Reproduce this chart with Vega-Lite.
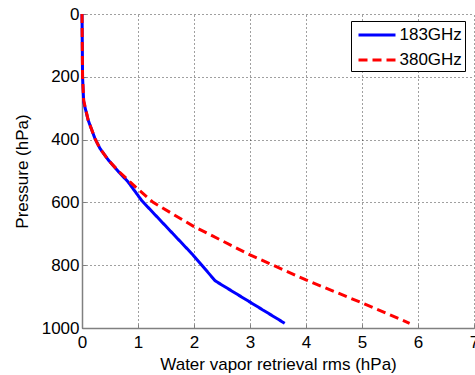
{
  "$schema": "https://vega.github.io/schema/vega-lite/v6.json",
  "autosize": "none",
  "width": 392,
  "height": 314,
  "padding": {"left": 82, "top": 14, "right": 1, "bottom": 47},
  "background": "white",
  "config": {
    "font": "Liberation Sans",
    "view": {"stroke": null},
    "axis": {
      "labelFont": "Liberation Sans",
      "titleFont": "Liberation Sans",
      "labelFontSize": 17,
      "titleFontSize": 17,
      "labelColor": "#000",
      "titleColor": "#000",
      "titleFontWeight": "normal",
      "domainColor": "#808080",
      "domainWidth": 1.5,
      "tickColor": "#808080",
      "tickSize": -4,
      "grid": true,
      "gridColor": "#000",
      "gridDash": [1, 3],
      "gridOpacity": 0.75,
      "gridWidth": 1
    }
  },
  "data": {
    "values": [
      {"band": "183GHz", "p": 0, "rms": 0.0},
      {"band": "183GHz", "p": 100, "rms": 0.005},
      {"band": "183GHz", "p": 200, "rms": 0.01},
      {"band": "183GHz", "p": 280, "rms": 0.03},
      {"band": "183GHz", "p": 338, "rms": 0.11},
      {"band": "183GHz", "p": 396, "rms": 0.23},
      {"band": "183GHz", "p": 428, "rms": 0.32},
      {"band": "183GHz", "p": 465, "rms": 0.47},
      {"band": "183GHz", "p": 502, "rms": 0.65},
      {"band": "183GHz", "p": 534, "rms": 0.82},
      {"band": "183GHz", "p": 595, "rms": 1.07},
      {"band": "183GHz", "p": 767, "rms": 1.98},
      {"band": "183GHz", "p": 850, "rms": 2.38},
      {"band": "183GHz", "p": 985, "rms": 3.62},
      {"band": "380GHz", "p": 0, "rms": 0.0},
      {"band": "380GHz", "p": 100, "rms": 0.005},
      {"band": "380GHz", "p": 200, "rms": 0.01},
      {"band": "380GHz", "p": 275, "rms": 0.03},
      {"band": "380GHz", "p": 338, "rms": 0.11},
      {"band": "380GHz", "p": 396, "rms": 0.23},
      {"band": "380GHz", "p": 428, "rms": 0.32},
      {"band": "380GHz", "p": 465, "rms": 0.47},
      {"band": "380GHz", "p": 500, "rms": 0.65},
      {"band": "380GHz", "p": 550, "rms": 0.95},
      {"band": "380GHz", "p": 600, "rms": 1.27},
      {"band": "380GHz", "p": 677, "rms": 2.0},
      {"band": "380GHz", "p": 767, "rms": 3.0},
      {"band": "380GHz", "p": 847, "rms": 4.0},
      {"band": "380GHz", "p": 920, "rms": 5.0},
      {"band": "380GHz", "p": 985, "rms": 5.85}
    ]
  },
  "mark": {"type": "line", "strokeWidth": 3, "clip": false},
  "encoding": {
    "x": {
      "field": "rms",
      "type": "quantitative",
      "title": "Water vapor retrieval rms (hPa)",
      "scale": {"domain": [0, 7], "nice": false, "zero": false},
      "axis": {"values": [0, 1, 2, 3, 4, 5, 6, 7], "labelPadding": 10, "titlePadding": 6, "labelFlush": false}
    },
    "y": {
      "field": "p",
      "type": "quantitative",
      "title": "Pressure (hPa)",
      "scale": {"domain": [0, 1000], "reverse": true, "nice": false, "zero": false},
      "axis": {"values": [0, 200, 400, 600, 800, 1000], "format": "d", "labelPadding": 7, "titlePadding": 10, "labelFlush": false}
    },
    "order": {"field": "p", "type": "quantitative"},
    "color": {
      "field": "band",
      "type": "nominal",
      "scale": {"domain": ["183GHz", "380GHz"], "range": ["#0000ff", "#ff0000"]},
      "legend": {
        "title": null,
        "orient": "none",
        "legendX": 269,
        "legendY": 7,
        "symbolType": "M-1.85,0H1.85",
        "symbolSize": 400,
        "symbolStrokeWidth": 3,
        "symbolOffset": 12,
        "labelOffset": 11,
        "labelExpr": "datum.label + '  '",
        "labelFontSize": 17,
        "labelFont": "Liberation Sans",
        "labelColor": "#000",
        "strokeColor": "#000",
        "fillColor": "#fff",
        "padding": 2.5,
        "rowPadding": 5
      }
    },
    "strokeDash": {
      "field": "band",
      "type": "nominal",
      "scale": {"domain": ["183GHz", "380GHz"], "range": [[1, 0], [9, 5]]},
      "legend": null
    }
  }
}
